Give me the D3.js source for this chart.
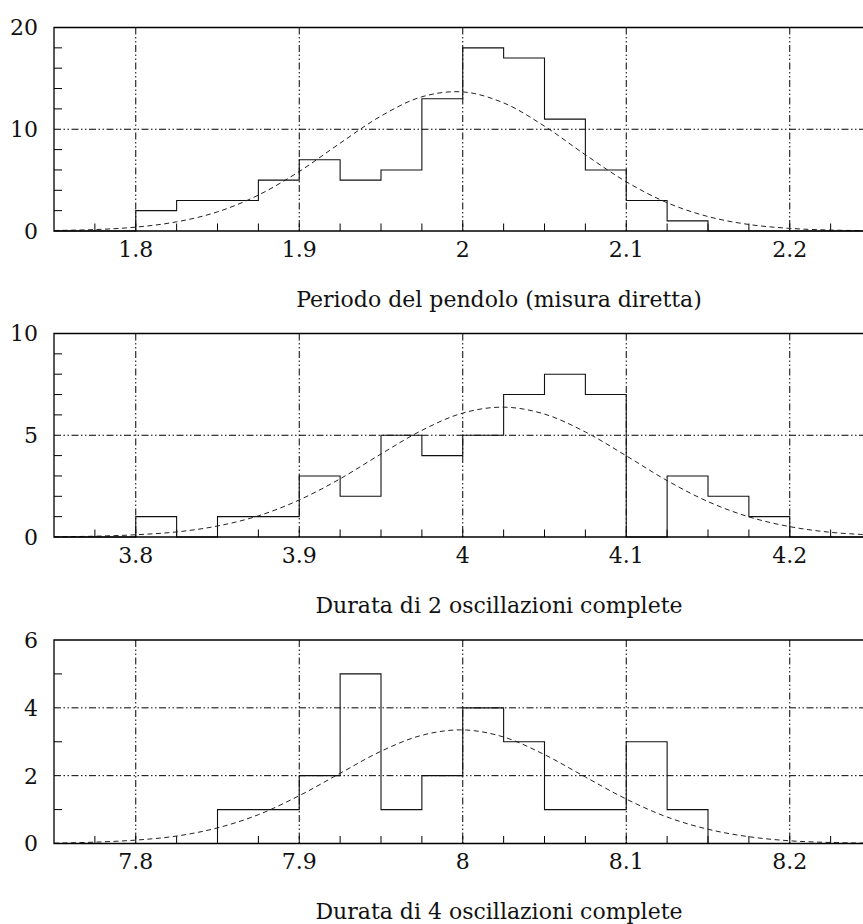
<!DOCTYPE html>
<html>
<head>
<meta charset="utf-8">
<script src="https://cdn.jsdelivr.net/npm/d3@7"></script>
<style>
    body { margin: 0; background: #fff; }
    text { font-family: 'DejaVu Serif', serif; font-size: 22px; fill: #111; }
</style>
</head>
<body>
<script>
// bin edges (width 0.025) for each histogram
const periodEdges = [ 1.75, 1.775, 1.8, 1.825, 1.85, 1.875, 1.9, 1.925, 1.95, 1.975, 2.0,
    2.025, 2.05, 2.075, 2.1, 2.125, 2.15, 2.175, 2.2, 2.225, 2.25 ];
const twoOscEdges = [ 3.75, 3.775, 3.8, 3.825, 3.85, 3.875, 3.9, 3.925, 3.95, 3.975, 4.0,
    4.025, 4.05, 4.075, 4.1, 4.125, 4.15, 4.175, 4.2, 4.225, 4.25 ];
const fourOscEdges = [ 7.75, 7.775, 7.8, 7.825, 7.85, 7.875, 7.9, 7.925, 7.95, 7.975, 8.0,
    8.025, 8.05, 8.075, 8.1, 8.125, 8.15, 8.175, 8.2, 8.225, 8.25 ];

// counts per bin
const periodCounts = [ 0, 0, 2, 3, 3, 5, 7, 5, 6, 13, 18, 17, 11, 6, 3, 1, 0, 0, 0, 0 ];
const twoOscCounts = [ 0, 0, 1, 0, 1, 1, 3, 2, 5, 4, 5, 7, 8, 7, 0, 3, 2, 1, 0, 0 ];
const fourOscCounts = [ 0, 0, 0, 0, 1, 1, 2, 5, 1, 2, 4, 3, 1, 1, 3, 1, 0, 0, 0, 0 ];

// dashed gaussian curve, read at the bin edges
const periodFit = [ 0.05, 0.14, 0.38, 0.9, 1.88, 3.53, 5.85, 8.63, 11.3, 13.19, 13.67,
    12.59, 10.3, 7.49, 4.84, 2.78, 1.42, 0.64, 0.26, 0.09, 0.03 ];
const twoOscFit = [ 0.01, 0.04, 0.11, 0.25, 0.54, 1.04, 1.82, 2.86, 4.08, 5.24, 6.09,
    6.38, 6.04, 5.16, 3.99, 2.77, 1.74, 0.99, 0.51, 0.23, 0.1 ];
const fourOscFit = [ 0.01, 0.04, 0.1, 0.22, 0.46, 0.85, 1.41, 2.07, 2.72, 3.19, 3.35,
    3.14, 2.62, 1.96, 1.31, 0.78, 0.42, 0.2, 0.08, 0.03, 0.01 ];

// axis ticks and labels
const periodXTicks = [ 1.8, 1.9, 2.0, 2.1, 2.2 ];
const twoOscXTicks = [ 3.8, 3.9, 4.0, 4.1, 4.2 ];
const fourOscXTicks = [ 7.8, 7.9, 8.0, 8.1, 8.2 ];
const periodYTicks = [ 0, 10, 20 ];
const twoOscYTicks = [ 0, 5, 10 ];
const fourOscYTicks = [ 0, 2, 4, 6 ];
const periodYMinor = [ 2, 4, 6, 8, 12, 14, 16, 18 ];
const twoOscYMinor = [ 1, 2, 3, 4, 6, 7, 8, 9 ];
const fourOscYMinor = [ 1, 3, 5 ];

const captions = [
    'Periodo del pendolo (misura diretta)',
    'Durata di 2 oscillazioni complete',
    'Durata di 4 oscillazioni complete'
];

const panels = [
    { edges: periodEdges, counts: periodCounts, fit: periodFit, xTicks: periodXTicks, yTicks: periodYTicks, yMinor: periodYMinor },
    { edges: twoOscEdges, counts: twoOscCounts, fit: twoOscFit, xTicks: twoOscXTicks, yTicks: twoOscYTicks, yMinor: twoOscYMinor },
    { edges: fourOscEdges, counts: fourOscCounts, fit: fourOscFit, xTicks: fourOscXTicks, yTicks: fourOscYTicks, yMinor: fourOscYMinor }
];

const width = 863, height = 924;
const left = 54, right = 871.5; // plot runs past the right edge of the picture
const panelTops = [ 27.5, 333.5, 640 ];
const panelHeight = 203.5;
const gridDash = '7,2.5,1.5,2.5,1.5,2.5';

const svg = d3
.select('body')
.append('svg')
.attr('width', width)
.attr('height', height);

panels.forEach((p, i) => {
    const top = panelTops[i];
    const bottom = top + panelHeight;
    const g = svg.append('g');

    const x = d3
    .scaleLinear()
    .domain([ p.edges[0], p.edges[p.edges.length - 1] ])
    .range([ left, right ]);
    const y = d3
    .scaleLinear()
    .domain([ 0, d3.max(p.yTicks) ])
    .range([ bottom, top ]);

    // grid
    g
    .selectAll('.vgrid')
    .data(p.xTicks)
    .enter()
    .append('line')
    .attr('x1', d => x(d))
    .attr('x2', d => x(d))
    .attr('y1', top)
    .attr('y2', bottom)
    .attr('stroke', '#000')
    .attr('stroke-dasharray', gridDash);
    g
    .selectAll('.hgrid')
    .data(p.yTicks.slice(1, -1))
    .enter()
    .append('line')
    .attr('x1', left)
    .attr('x2', right)
    .attr('y1', d => y(d))
    .attr('y2', d => y(d))
    .attr('stroke', '#000')
    .attr('stroke-dasharray', gridDash);

    // minor ticks
    g
    .selectAll('.xminor')
    .data(p.edges.slice(1, -1))
    .enter()
    .append('line')
    .attr('x1', d => x(d))
    .attr('x2', d => x(d))
    .attr('y1', bottom)
    .attr('y2', bottom - 7.5)
    .attr('stroke', '#000');
    g
    .selectAll('.yminor')
    .data(p.yMinor)
    .enter()
    .append('line')
    .attr('x1', left)
    .attr('x2', left + 8)
    .attr('y1', d => y(d))
    .attr('y2', d => y(d))
    .attr('stroke', '#000');

    // histogram outline
    const steps = p.counts.map((c, k) => [ p.edges[k], c ]);
    steps.push([ p.edges[p.edges.length - 1], p.counts[p.counts.length - 1] ]);
    const stepLine = d3
    .line()
    .x(d => x(d[0]))
    .y(d => y(d[1]))
    .curve(d3.curveStepAfter);
    g
    .append('path')
    .attr('d', stepLine(steps))
    .attr('fill', 'none')
    .attr('stroke', '#111')
    .attr('stroke-width', 1.1);

    // fitted gaussian
    const fitLine = d3
    .line()
    .x((d, k) => x(p.edges[k]))
    .y(d => y(d))
    .curve(d3.curveCatmullRom);
    g
    .append('path')
    .attr('d', fitLine(p.fit))
    .attr('fill', 'none')
    .attr('stroke', '#222')
    .attr('stroke-dasharray', '5,3.5');

    // frame: left, bottom, top
    g
    .append('path')
    .attr('d', `M${right},${top}H${left}V${bottom}H${right}`)
    .attr('fill', 'none')
    .attr('stroke', '#000')
    .attr('stroke-width', 1.3);

    // tick labels
    g
    .selectAll('.xlab')
    .data(p.xTicks)
    .enter()
    .append('text')
    .attr('x', d => x(d))
    .attr('y', bottom + 25.5)
    .attr('text-anchor', 'middle')
    .text(d => d3.format('~g')(d));
    g
    .selectAll('.ylab')
    .data(p.yTicks)
    .enter()
    .append('text')
    .attr('x', 38)
    .attr('y', d => y(d))
    .attr('dy', '0.36em')
    .attr('text-anchor', 'end')
    .text(d => d);

    g
    .append('text')
    .attr('x', 499)
    .attr('y', bottom + 75.5)
    .attr('text-anchor', 'middle')
    .text(captions[i]);
});
</script>
</body>
</html>
